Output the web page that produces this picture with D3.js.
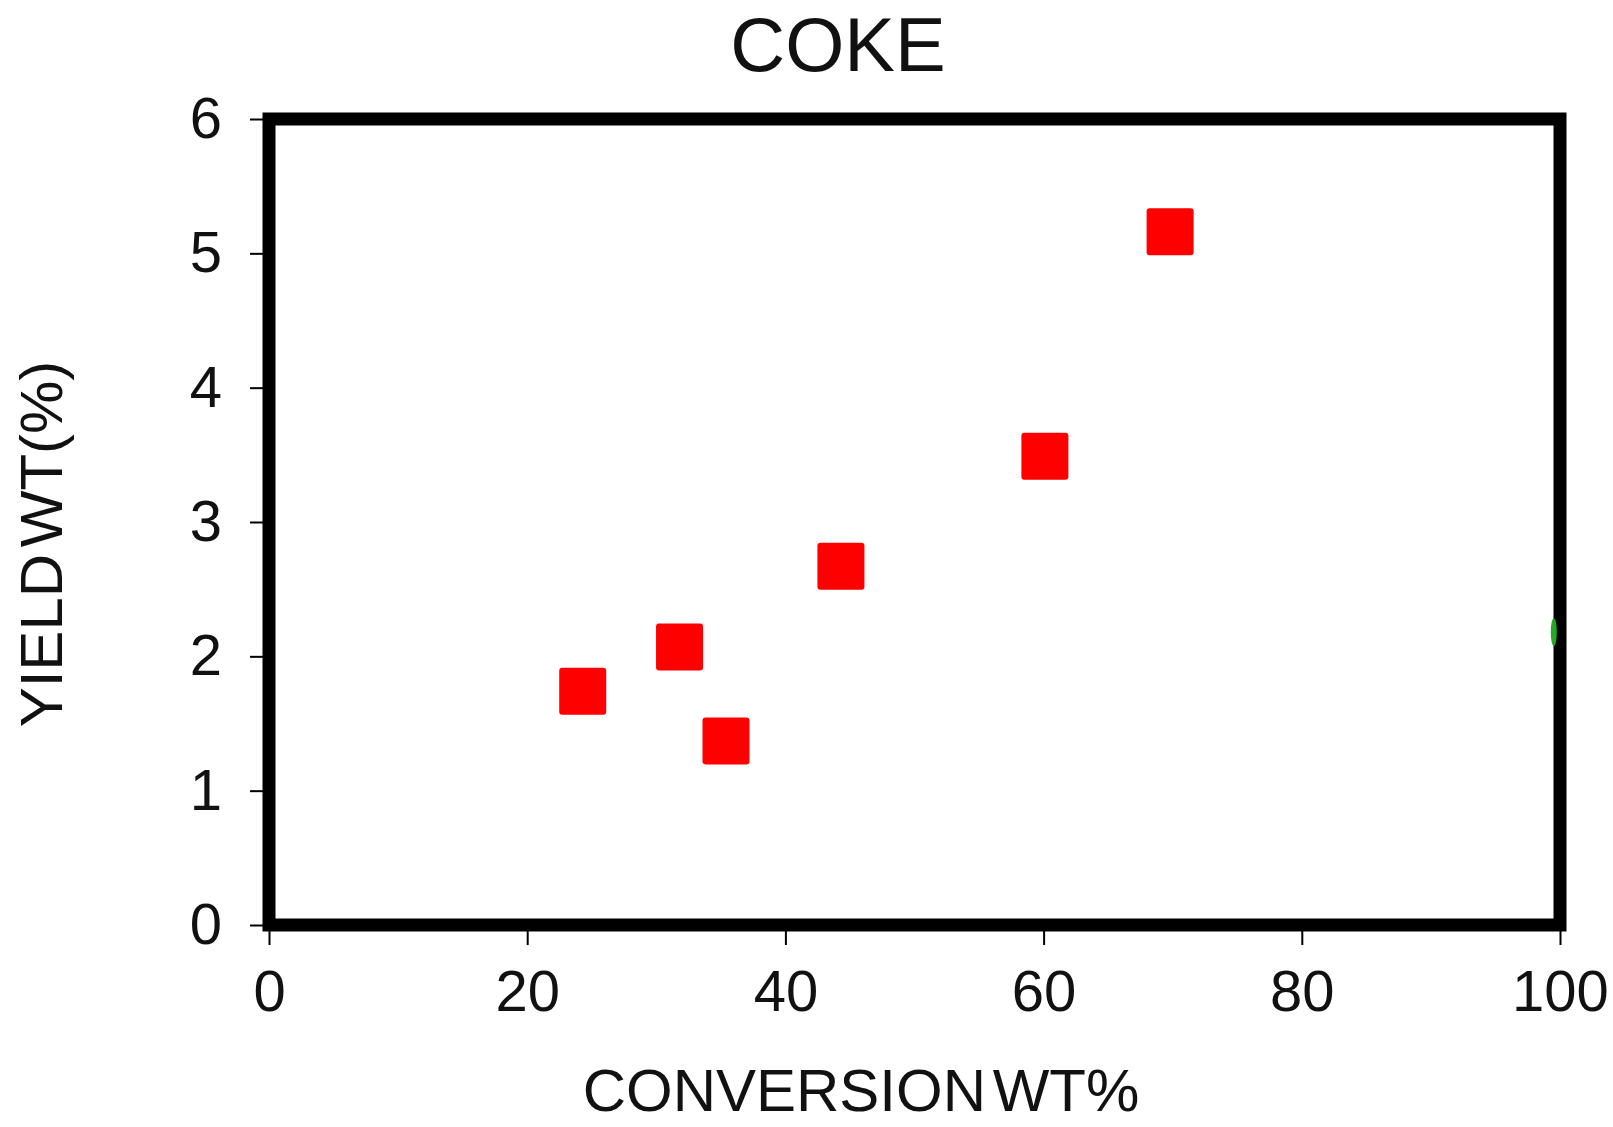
<!DOCTYPE html>
<html>
<head>
<meta charset="utf-8">
<script src="https://cdn.jsdelivr.net/npm/d3@7"></script>
<style>
  body { margin: 0; background: #fff; }
  svg { display: block; font-family: "Liberation Sans", Arial, sans-serif; }
</style>
</head>
<body>
<svg id="chart"></svg>
<script>
// data
const conversion = [24.3, 31.8, 35.4, 44.3, 60.1, 69.8];
const yieldWt = [1.74, 2.07, 1.37, 2.67, 3.49, 5.16];
// stray green point hidden behind the right border
const strayX = [99.75];
const strayY = [2.18];
const xTicks = [0, 20, 40, 60, 80, 100];
const yTicks = [0, 1, 2, 3, 4, 5, 6];

const width = 1613;
const height = 1127;

const svg = d3.select("#chart")
    .attr("width", width)
    .attr("height", height);

const x = d3.scaleLinear().domain([0, 100]).range([269, 1560]);
const y = d3.scaleLinear().domain([0, 6]).range([925, 119]);

// axes
const xAxis = svg.append("g")
    .attr("transform", `translate(0,${y(0)})`)
    .call(d3.axisBottom(x).tickValues(xTicks).tickSize(20).tickPadding(25).tickFormat(d3.format("d")));

const yAxis = svg.append("g")
    .attr("transform", `translate(${x(0)},0)`)
    .call(d3.axisLeft(y).tickValues(yTicks).tickSize(19).tickPadding(28).tickFormat(d3.format("d")));

[xAxis, yAxis].forEach(g => {
    g.select(".domain").remove();
    g.selectAll(".tick line").attr("stroke", "#000").attr("stroke-width", 2);
    g.selectAll(".tick text")
        .attr("fill", "#111")
        .style("font-size", "58px")
        .style("font-family", "'Liberation Sans', Arial, sans-serif");
});

// points
const pts = conversion.map((c, i) => ({ x: c, y: yieldWt[i] }));
const s = 47;
svg.selectAll(".pt").data(pts).enter().append("rect")
    .attr("class", "pt")
    .attr("x", d => x(d.x) - s / 2)
    .attr("y", d => y(d.y) - s / 2)
    .attr("width", s)
    .attr("height", s)
    .attr("rx", 3)
    .attr("fill", "#ff0000");

// plot frame
svg.append("rect")
    .attr("x", x(0))
    .attr("y", y(6))
    .attr("width", x(100) - x(0))
    .attr("height", y(0) - y(6))
    .attr("fill", "none")
    .attr("stroke", "#000")
    .attr("stroke-width", 13);

svg.selectAll(".stray").data(strayX).enter().append("ellipse")
    .attr("class", "stray")
    .attr("cx", (d) => x(d) - 3)
    .attr("cy", (d, i) => y(strayY[i]))
    .attr("rx", 3)
    .attr("ry", 14)
    .attr("fill", "#22aa22");

// titles
svg.append("text")
    .attr("x", 838).attr("y", 71)
    .attr("text-anchor", "middle")
    .attr("fill", "#111")
    .style("font-size", "76px")
    .text("COKE");

svg.append("text")
    .attr("x", 861).attr("y", 1111)
    .attr("text-anchor", "middle")
    .attr("fill", "#111")
    .style("font-size", "60px")
    .style("word-spacing", "-10px")
    .text("CONVERSION WT%");

svg.append("text")
    .attr("transform", "translate(62,544) rotate(-90)")
    .attr("text-anchor", "middle")
    .attr("fill", "#111")
    .style("font-size", "60px")
    .style("word-spacing", "-10px")
    .text("YIELD WT(%)");
</script>
</body>
</html>
